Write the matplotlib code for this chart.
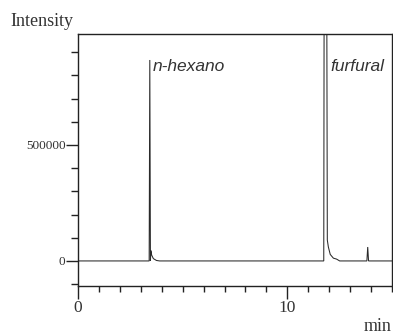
import matplotlib
matplotlib.use("Agg")
import matplotlib.pyplot as plt
from matplotlib.ticker import MultipleLocator, FixedLocator

# chromatogram trace (time in min, intensity)
time_min = [0.0, 3.40, 3.43, 3.46, 3.48, 3.52, 3.60, 3.75, 3.90,
            11.74, 11.76, 11.88, 11.91, 11.96, 12.05, 12.20, 12.35, 12.50,
            13.80, 13.84, 13.88, 15.0]
intensity = [0, 0, 866000, 0, 45000, 25000, 10000, 2000, 0,
             0, 1300000, 1300000, 90000, 60000, 28000, 12000, 8000, 0,
             0, 60000, 0, 0]

peak_names = ["n-hexano", "furfural"]
peak_label_x = [3.57, 12.05]
peak_label_y = [820000, 820000]

y_major = [0, 500000]
y_major_labels = ["0", "500000"]
x_major = [0, 10]
x_major_labels = ["0", "10"]

fig = plt.figure(figsize=(3.93, 3.35), dpi=100)
ax = fig.add_axes([78/393, 1-286/335, 314/393, 252/335])

ax.plot(time_min, intensity, color="#2a2a2a", lw=0.75, solid_joinstyle="miter")
ax.set_xlim(0, 15)
ax.set_ylim(-108000, 978000)

for s in ax.spines.values():
    s.set_color("#222222")
    s.set_linewidth(1.0)

ax.yaxis.set_major_locator(FixedLocator(y_major))
ax.set_yticklabels(y_major_labels, family="Liberation Serif", fontsize=9.5, color="#333333")
ax.yaxis.set_minor_locator(MultipleLocator(100000))
ax.xaxis.set_major_locator(FixedLocator(x_major))
ax.set_xticklabels(x_major_labels, family="Liberation Serif", fontsize=12.5, color="#333333")
ax.xaxis.set_minor_locator(MultipleLocator(1))

ax.tick_params(axis="y", which="major", length=9, width=1.0, pad=0, color="#222222")
ax.tick_params(axis="y", which="minor", length=5, width=1.0, color="#222222")
ax.tick_params(axis="x", which="major", length=9, width=1.0, pad=1, color="#222222")
ax.tick_params(axis="x", which="minor", length=4, width=1.0, color="#222222")

for name, x, y in zip(peak_names, peak_label_x, peak_label_y):
    ax.text(x, y, name, family="Liberation Sans", style="italic", fontsize=12.5,
            color="#333333", ha="left", va="baseline")

fig.text(10/393, 1-26/335, "Intensity", family="Liberation Serif", fontsize=13,
         color="#333333", ha="left", va="baseline")
fig.text(392/393, 1-331/335, "min", family="Liberation Serif", fontsize=13,
         color="#333333", ha="right", va="baseline")

fig.savefig("out.png", dpi=100)
